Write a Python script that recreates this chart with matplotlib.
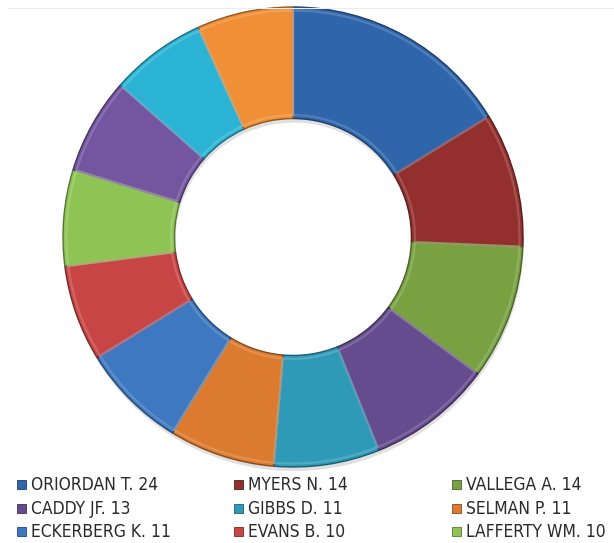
import matplotlib.pyplot as plt
from matplotlib.patches import Rectangle
from matplotlib.colors import to_rgb

# dados
nomes = ["ORIORDAN T.", "MYERS N.", "VALLEGA A.", "CADDY JF.", "GIBBS D.", "SELMAN P.",
         "ECKERBERG K.", "EVANS B.", "LAFFERTY WM.", "", "", ""]
valores = [24, 14, 14, 13, 11, 11, 11, 10, 10, 10, 10, 10]
cores = ["#2F66AB", "#93302E", "#79A142", "#654C8F", "#2E9AB8", "#DC7B2F",
         "#3D78C0", "#C84545", "#8DC454", "#7355A0", "#2BB3D6", "#F08F35"]
n_legenda = 9

def escurecer(c, f=0.7):
    r, g, b = to_rgb(c)
    return (r * f, g * f, b * f)

def clarear(c, f=0.35):
    r, g, b = to_rgb(c)
    return (r + (1 - r) * f, g + (1 - g) * f, b + (1 - b) * f)

fig = plt.figure(figsize=(6.14, 5.43), dpi=100)
W, H = 614, 543
cx, cy, R = 293, 237, 230
ax = fig.add_axes([(cx - R) / W, (H - cy - R) / H, 2 * R / W, 2 * R / H])

# sombra suave
ax.pie(valores, colors=["#000000"] * len(valores), startangle=90, counterclock=False,
       radius=1.0, center=(0.004, -0.018),
       wedgeprops=dict(width=0.485, linewidth=0, alpha=0.12))

wedges, _ = ax.pie(valores, colors=cores, startangle=90, counterclock=False,
                   radius=1, wedgeprops=dict(width=0.485, linewidth=1.0))
for w, c in zip(wedges, cores):
    w.set_edgecolor(escurecer(c, 0.6))

# brilho interno (efeito bisel)
brilho, _ = ax.pie(valores, colors=["none"] * len(valores), startangle=90, counterclock=False,
                   radius=0.985, wedgeprops=dict(width=0.455, linewidth=1.6))
for w, c in zip(brilho, cores):
    w.set_facecolor("none")
    w.set_edgecolor(clarear(c, 0.3))
    w.set_alpha(0.55)

ax.set_xlim(-1, 1)
ax.set_ylim(-1, 1)
ax.set_aspect("equal")
ax.axis("off")

# linha fina no topo
fig.add_artist(plt.Line2D([8 / W, 1], [1 - 8 / H, 1 - 8 / H], color="#ececec", linewidth=0.8))

# legenda em 3 colunas
col_x = [17, 234, 452]
lin_y = [484, 508, 531]
for i in range(n_legenda):
    x = col_x[i % 3]
    y = lin_y[i // 3]
    fig.patches.append(Rectangle((x / W, 1 - (y + 4.5) / H), 9 / W, 9 / H,
                                 transform=fig.transFigure, facecolor=cores[i],
                                 edgecolor=escurecer(cores[i], 0.6), linewidth=0.6))
    fig.text((x + 14) / W, 1 - (y + 1) / H, f"{nomes[i]} {valores[i]}",
             fontsize=12.5, family="DejaVu Sans", fontstretch="condensed",
             color="#2a2a2a", va="center", ha="left")

fig.savefig("out.png", dpi=100)
